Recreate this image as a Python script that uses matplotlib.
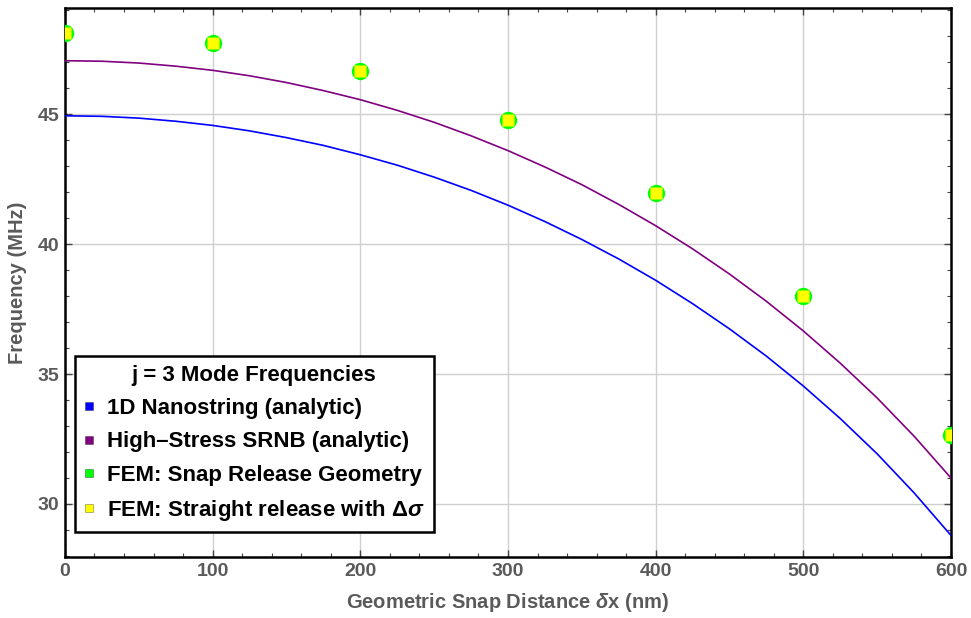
import numpy as np
import matplotlib
matplotlib.use("Agg")
import matplotlib.pyplot as plt
from matplotlib.lines import Line2D
from matplotlib.ticker import MultipleLocator

plt.rcParams["font.family"] = ["Liberation Sans", "DejaVu Sans"]
plt.rcParams["mathtext.fontset"] = "custom"
plt.rcParams["mathtext.rm"] = "Liberation Sans:bold"
plt.rcParams["mathtext.it"] = "Liberation Sans:italic:bold"
plt.rcParams["mathtext.bf"] = "Liberation Sans:bold"

# -------- Data --------
x_curve = [0, 25, 50, 75, 100, 125, 150, 175, 200, 225, 250, 275, 300,
           325, 350, 375, 400, 425, 450, 475, 500, 525, 550, 575, 600]
f_nanostring = [44.94, 44.92, 44.85, 44.73, 44.57, 44.36, 44.10, 43.80, 43.44, 43.04, 42.58, 42.07, 41.50,
                40.87, 40.18, 39.43, 38.61, 37.71, 36.74, 35.69, 34.54, 33.29, 31.93, 30.43, 28.79]
f_srnb = [47.06, 47.04, 46.97, 46.85, 46.69, 46.48, 46.22, 45.91, 45.56, 45.15, 44.69, 44.17, 43.60,
          42.97, 42.29, 41.53, 40.71, 39.82, 38.85, 37.80, 36.66, 35.42, 34.08, 32.61, 31.00]

x_fem = [0, 100, 200, 300, 400, 500, 600]
f_fem_snap = [48.13, 47.75, 46.67, 44.79, 41.98, 38.02, 32.67]
f_fem_straight = [48.13, 47.75, 46.67, 44.79, 41.98, 38.02, 32.67]

labels = ["1D Nanostring (analytic)", "High\u2013Stress SRNB (analytic)",
          "FEM: Snap Release Geometry", r"FEM: Straight release with $\Delta\sigma$"]
c_blue = (0, 0, 1)
c_purple = (0.5, 0, 0.5)
c_green = (0, 1, 0)
c_yellow = (1, 1, 0)
gray = "#5a5a5a"

# -------- Plot --------
fig = plt.figure(figsize=(9.71, 6.18), dpi=100)
ax = fig.add_axes([0.0669, 0.0987, 0.9125, 0.888])

ax.plot(x_curve, f_nanostring, color=c_blue, lw=1.2, zorder=3)
ax.plot(x_curve, f_srnb, color=c_purple, lw=1.2, zorder=3)
ax.plot(x_fem, f_fem_snap, "o", color=c_green, ms=12.5, mec="none", zorder=4)
ax.plot(x_fem, f_fem_straight, "s", color=c_yellow, ms=8, mec="none", zorder=5)

ax.set_xlim(0, 600)
ax.set_ylim(27.96, 49.08)
ax.xaxis.set_major_locator(MultipleLocator(100))
ax.xaxis.set_minor_locator(MultipleLocator(20))
ax.yaxis.set_major_locator(MultipleLocator(5))
ax.yaxis.set_minor_locator(MultipleLocator(1))
ax.grid(True, which="major", color="#cfcfcf", lw=1.0)
ax.set_axisbelow(True)

for s in ax.spines.values():
    s.set_linewidth(1.8)
    s.set_color("black")
ax.tick_params(which="both", direction="in", top=True, right=True, color="#444444")
ax.tick_params(which="major", length=5, width=1.0, labelsize=14, labelcolor=gray, pad=4)
ax.tick_params(which="minor", length=3, width=0.8)
for t in ax.get_xticklabels() + ax.get_yticklabels():
    t.set_fontweight("bold")

ax.set_xlabel(r"Geometric Snap Distance $\delta$x (nm)", fontsize=14.5, color=gray,
              fontweight="bold", labelpad=8)
ax.set_ylabel("Frequency (MHz)", fontsize=14.5, color=gray, fontweight="bold", labelpad=8)

handles = [Line2D([], [], ls="none", marker="s", ms=6, mfc=c, mec=(0, 0, 0, 0.35), mew=0.6)
           for c in (c_blue, c_purple, c_green, c_yellow)]
leg = ax.legend(handles, labels, title="j = 3 Mode Frequencies", loc="lower left",
                bbox_to_anchor=(0.011, 0.046), borderaxespad=0, fancybox=False,
                framealpha=1, edgecolor="black", handlelength=0.5, handletextpad=0.55,
                labelspacing=0.55, borderpad=0.4,
                prop={"size": 16, "weight": "bold"},
                title_fontproperties={"size": 16, "weight": "bold"})
leg.get_frame().set_linewidth(1.8)
leg.set_zorder(10)

plt.savefig("out.png", dpi=100)
